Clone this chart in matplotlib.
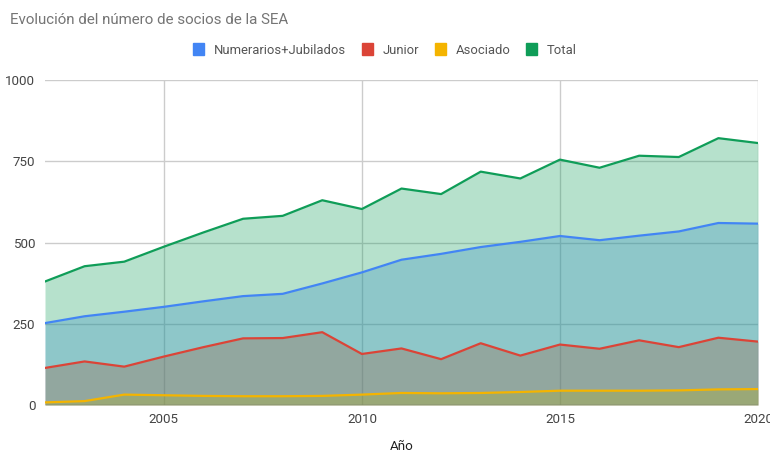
import matplotlib
matplotlib.use("Agg")
import matplotlib.pyplot as plt
from matplotlib.patches import Patch

plt.rcParams['font.family'] = ['Roboto', 'DejaVu Sans']

years = list(range(2002, 2021))
numerarios = [252, 273, 287, 302, 319, 335, 342, 374, 408, 447, 465, 486, 502, 520, 507, 521, 534, 560, 558]
junior = [114, 134, 118, 149, 178, 205, 206, 224, 157, 174, 141, 190, 152, 186, 173, 199, 178, 207, 195]
asociado = [8, 12, 32, 30, 28, 27, 27, 28, 32, 37, 36, 37, 40, 44, 44, 44, 45, 48, 49]
total = [380, 427, 441, 487, 531, 573, 582, 630, 603, 666, 649, 718, 697, 755, 730, 767, 763, 821, 806]

series = [
    ("Numerarios+Jubilados", numerarios, "#4285F4"),
    ("Junior", junior, "#DB4437"),
    ("Asociado", asociado, "#F4B400"),
    ("Total", total, "#0F9D58"),
]

W, H = 770, 453
fig = plt.figure(figsize=(W / 100, H / 100), dpi=100)
ax = fig.add_axes([45 / W, 1 - 405 / H, (758 - 45) / W, (405 - 80) / H])

for name, vals, col in series:
    ax.fill_between(years, 0, vals, color=col, alpha=0.3, linewidth=0, zorder=2)
for name, vals, col in series:
    ax.plot(years, vals, color=col, linewidth=1.6, zorder=3, solid_joinstyle='round')

ax.set_xlim(2002, 2020)
ax.set_ylim(0, 1000)
ax.set_xticks([2005, 2010, 2015, 2020])
ax.set_yticks([0, 250, 500, 750, 1000])
ax.grid(True, color="#cccccc", linewidth=1, zorder=0)
ax.set_axisbelow(True)
for s in ax.spines.values():
    s.set_visible(False)
ax.axhline(0, color="#777777", linewidth=1, zorder=4)
ax.tick_params(length=0, labelsize=9.6, labelcolor="#444444")
ax.tick_params(axis='y', pad=7)
ax.tick_params(axis='x', pad=6)
for lbl in ax.get_xticklabels():
    lbl.set_clip_on(False)

fig.text(10 / W, 1 - 20 / H, "Evolución del número de socios de la SEA", fontsize=10.9,
         color="#757575", ha="left", va="center")
fig.text(402 / W, 1 - 447 / H, "Año", fontsize=9.6, color="#222222", ha="center", va="center")

handles = [Patch(facecolor=c, edgecolor=c, label=n) for n, v, c in series]
leg = fig.legend(handles=handles, loc="center", bbox_to_anchor=(385 / W, 1 - 50 / H), ncol=4,
                 frameon=False, fontsize=9.4, handlelength=0.85, handleheight=0.95,
                 handletextpad=0.75, columnspacing=1.2, labelcolor="#555555")

fig.savefig("out.png", dpi=100)
